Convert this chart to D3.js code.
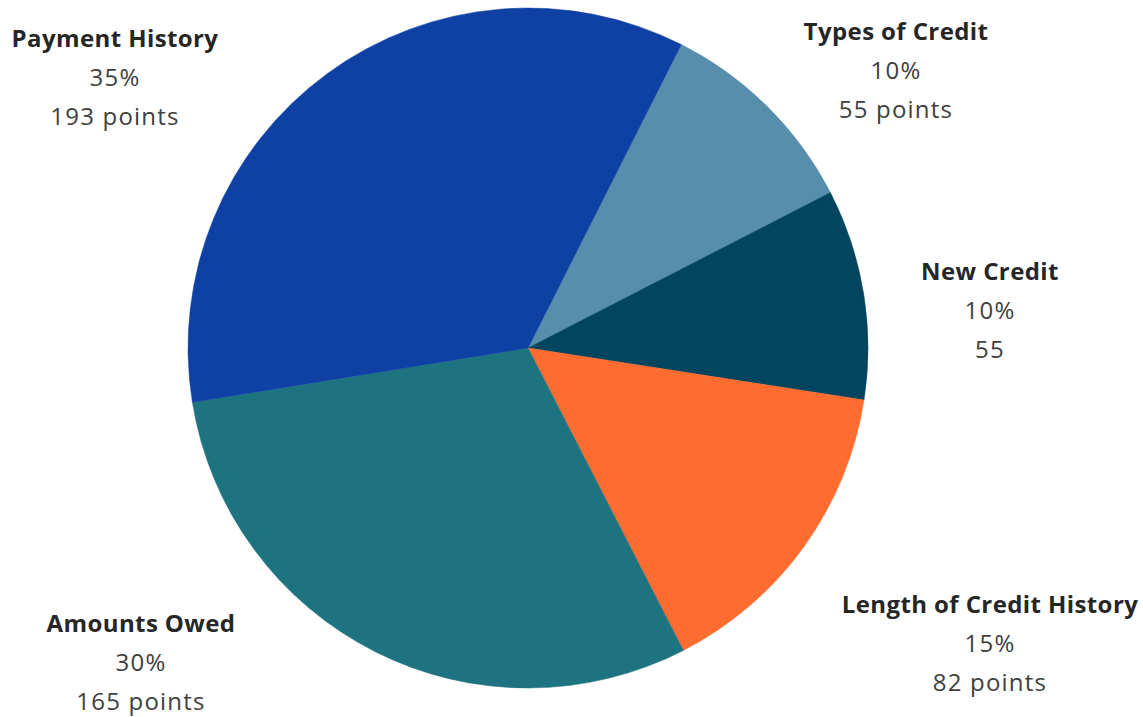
<!DOCTYPE html>
<html>
<head>
<meta charset="utf-8">
<script src="https://cdn.jsdelivr.net/npm/d3@7"></script>
<style>
html,body{margin:0;padding:0;background:#fff;}
svg{display:block;}
</style>
</head>
<body>
<svg id="chart" width="1143" height="717"></svg>
<script>
const categories = ["Types of Credit", "New Credit", "Length of Credit History", "Amounts Owed", "Payment History"];
const percents = [10, 10, 15, 30, 35];
const pointsLabels = ["55 points", "55", "82 points", "165 points", "193 points"];
const colors = ["#568EAC", "#03445E", "#FF6C30", "#1E7381", "#0F41A4"];
// label anchor positions (center x, title baseline y)
const labelX = [896, 990, 990, 141, 115];
const labelY = [40, 280, 613, 632, 47];

const svg = d3.select("#chart");
const cx = 528, cy = 348, r = 340;
const start = 26.8 * Math.PI / 180;

const pie = d3.pie().sort(null).value(d => d).startAngle(start).endAngle(start + 2 * Math.PI);
const arc = d3.arc().innerRadius(0).outerRadius(r);
const color = d3.scaleOrdinal().domain(categories).range(colors);

const g = svg.append("g").attr("transform", `translate(${cx},${cy})`);
g.selectAll("path").data(pie(percents)).join("path")
  .attr("d", arc)
  .attr("fill", (d, i) => color(categories[i]))
  .attr("stroke", (d, i) => color(categories[i]))
  .attr("stroke-width", 0.5);

const labels = svg.selectAll("g.lab").data(categories).join("g")
  .attr("class", "lab")
  .attr("transform", (d, i) => `translate(${labelX[i]},${labelY[i]})`)
  .attr("font-family", "'Open Sans', sans-serif")
  .attr("text-anchor", "middle");

labels.append("text").text(d => d)
  .attr("font-size", 24).attr("font-weight", "bold").attr("letter-spacing", 0.4).attr("fill", "#262626");
labels.append("text").text((d, i) => percents[i] + "%")
  .attr("y", 39).attr("font-size", 24).attr("letter-spacing", 1.2).attr("fill", "#404040");
labels.append("text").text((d, i) => pointsLabels[i])
  .attr("y", 78).attr("font-size", 24).attr("letter-spacing", 1.2).attr("fill", "#404040");
</script>
</body>
</html>
